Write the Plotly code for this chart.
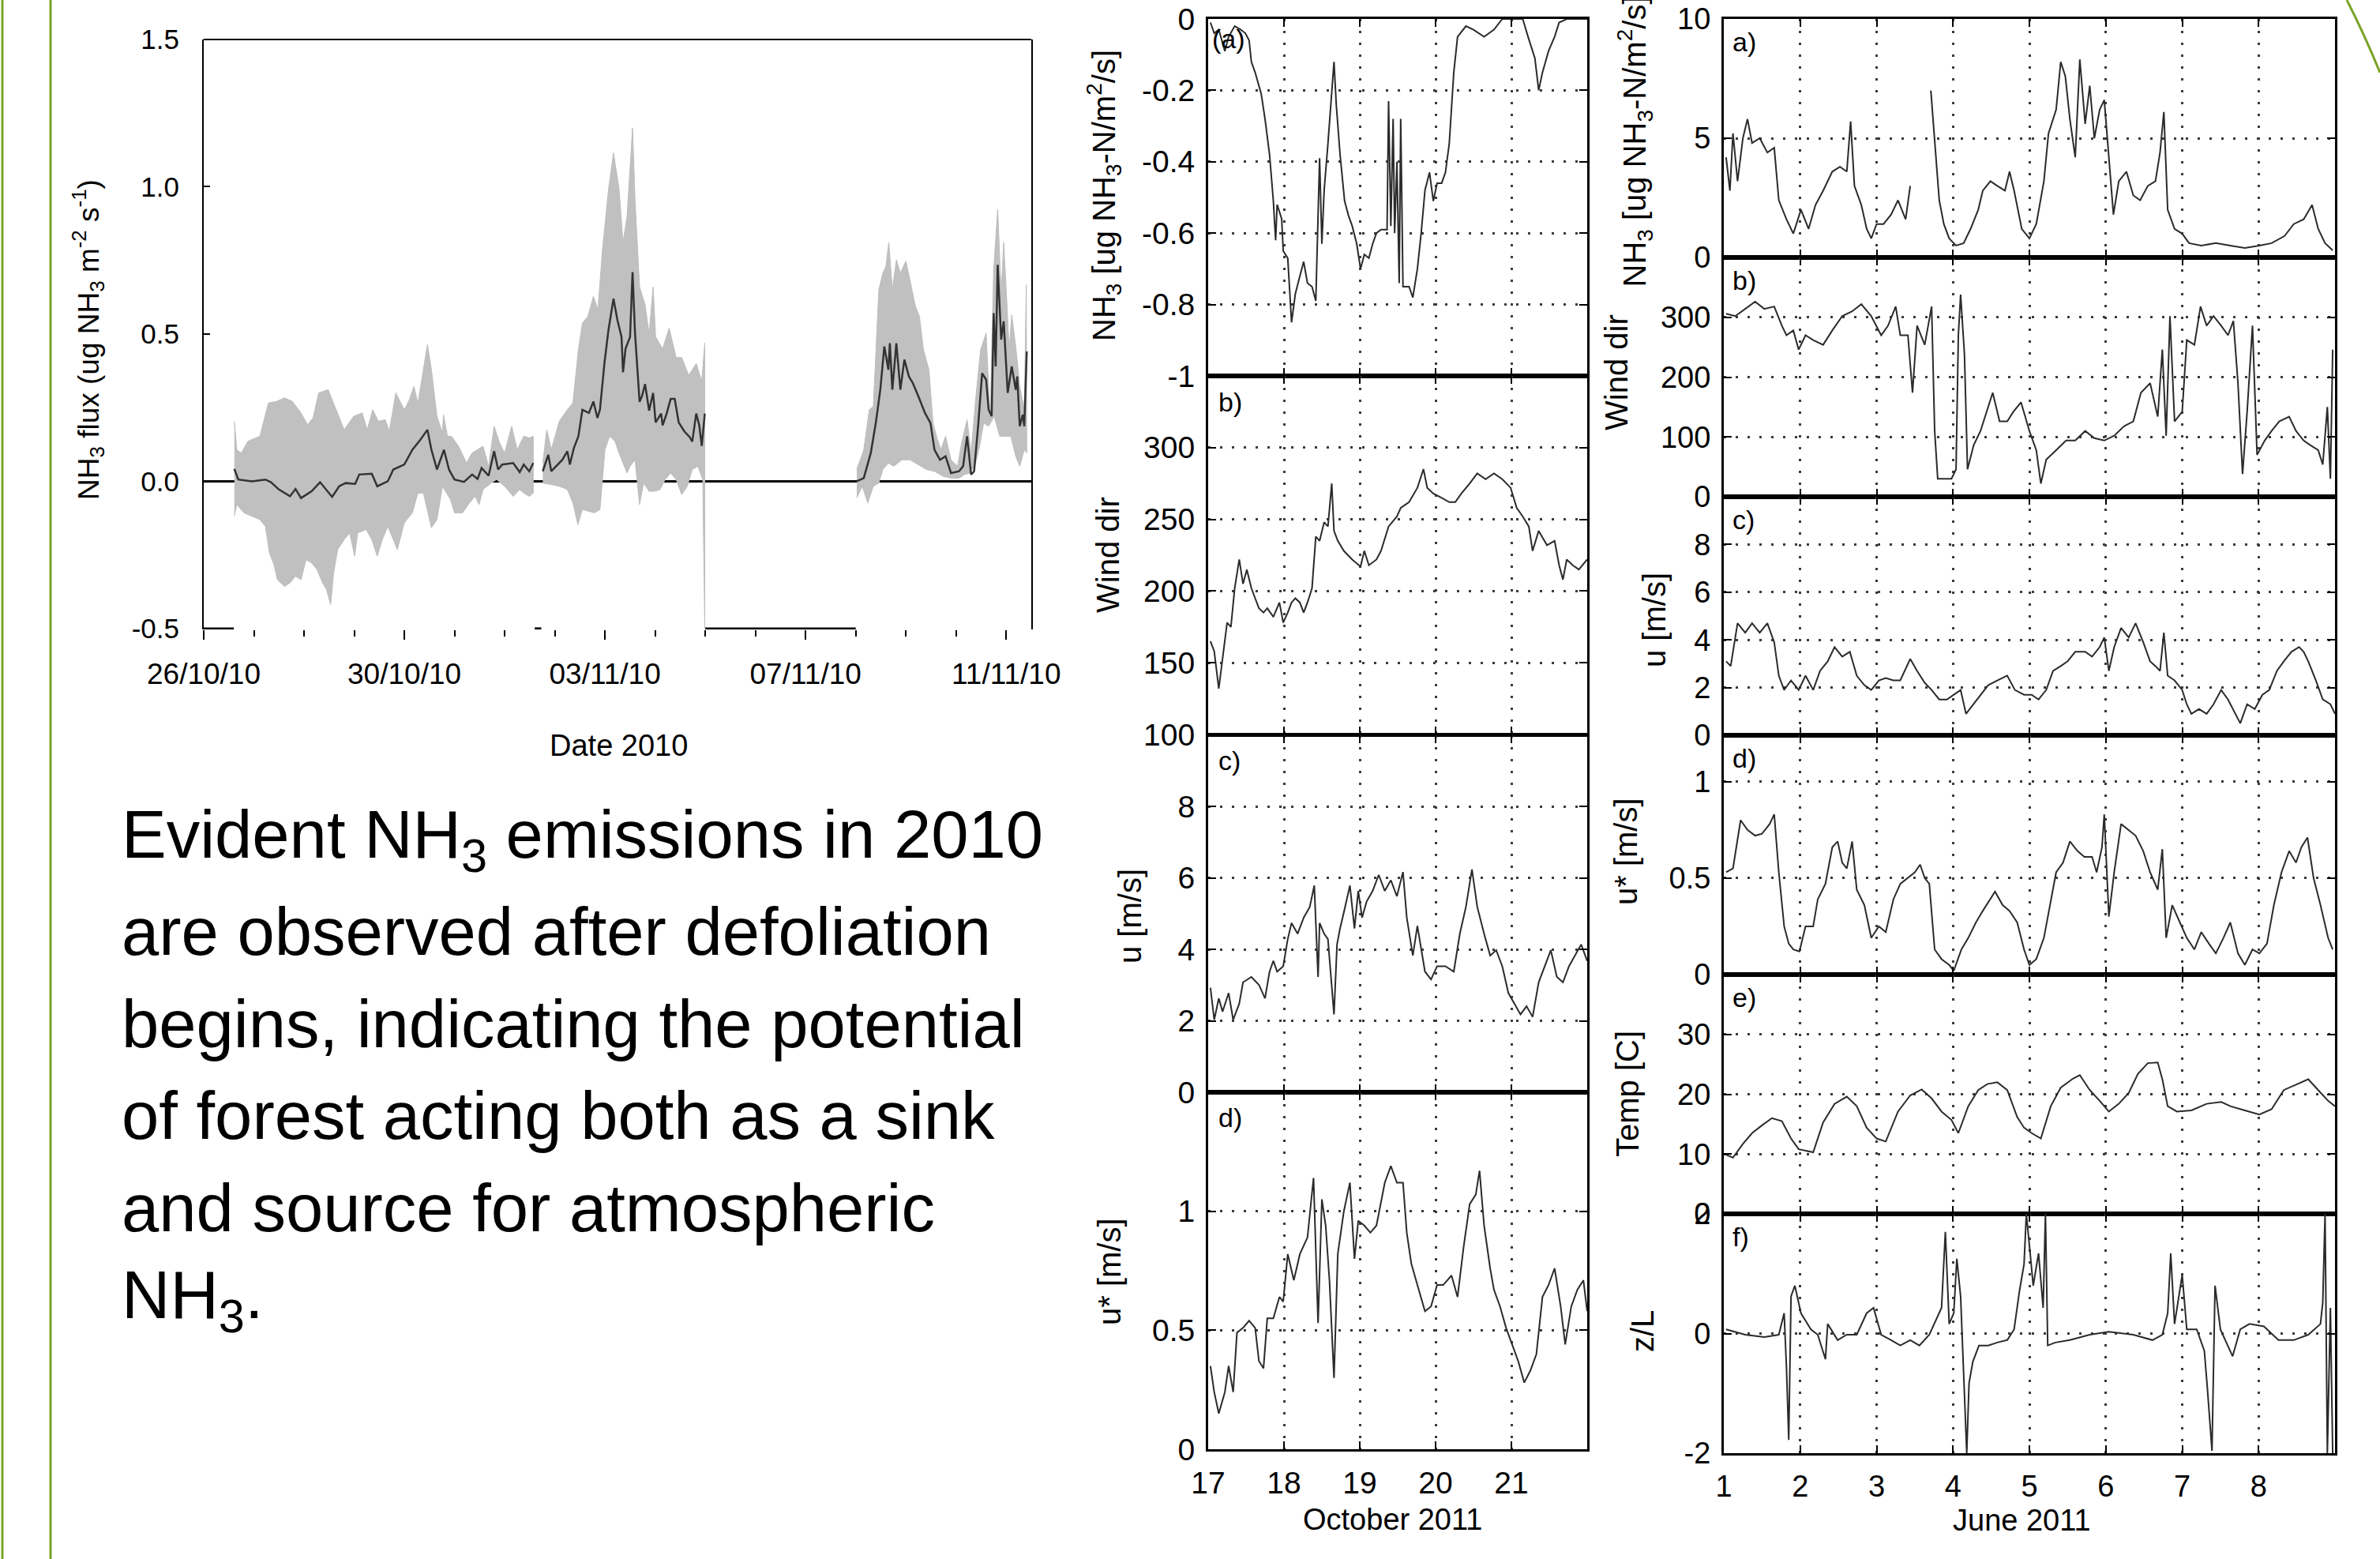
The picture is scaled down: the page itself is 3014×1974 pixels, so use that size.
import plotly.graph_objects as go
import pandas as pd

W, H = 3014, 1974
def X(px): return px / W
def Y(py): return 1 - py / H

FONT = "Liberation Sans, Arial, Helvetica, sans-serif"
LINE = "#2b2b2b"

# ---------------- Left chart: NH3 flux 2010 (days after 26/10/2010) ----------------
flux_day = [0.61,0.69,0.96,1.23,1.34,1.50,1.72,1.83,1.94,2.15,2.32,2.42,2.56,2.70,2.83,3.02,3.10,3.35,3.46,3.67,
            3.78,4.00,4.16,4.32,4.46,4.54,4.65,4.79,4.89,5.00,5.19,5.35,5.46,5.54,5.68,5.79,5.87,5.95,6.17,6.30,
            6.38,6.49,6.57,None,
            6.76,6.87,6.93,7.15,7.25,7.30,7.38,7.47,7.55,7.68,7.77,7.85,7.90,7.99,8.07,8.17,8.25,8.33,8.36,8.41,
            8.50,8.55,8.60,8.63,8.69,8.74,8.80,8.88,8.96,9.01,9.12,9.15,9.23,9.31,9.39,9.47,9.58,9.69,9.74,9.82,
            9.88,9.93,9.99,None,
            13.02,13.16,13.30,13.40,13.49,13.57,13.65,13.68,13.73,13.81,13.89,13.97,14.06,14.14,14.25,14.38,14.49,
            14.57,14.68,14.79,14.90,15.06,15.14,15.22,15.30,15.36,15.44,15.52,15.60,15.65,15.71,15.75,15.79,15.83,
            15.90,15.95,16.03,16.11,16.19,16.22,16.27,16.33,16.36,16.41]
flux_mean = [0.042,0.006,0.000,0.006,-0.003,-0.028,-0.051,-0.026,-0.057,-0.034,-0.003,-0.023,-0.053,-0.017,-0.006,-0.009,0.023,0.026,-0.017,0.000,
             0.040,0.057,0.107,0.141,0.175,0.107,0.040,0.107,0.040,0.006,-0.002,0.023,0.008,0.045,0.019,0.102,0.040,0.057,0.062,0.031,
             0.057,0.034,0.062,None,
             0.034,0.090,0.034,0.073,0.102,0.057,0.113,0.153,0.243,0.232,0.271,0.215,0.243,0.402,0.514,0.620,0.546,0.490,0.37,0.45,
             0.49,0.71,0.50,0.43,0.27,0.29,0.33,0.24,0.30,0.20,0.23,0.19,0.23,0.28,0.28,0.20,0.17,0.15,0.135,0.23,
             0.19,0.12,0.23,None,
             0.000,0.011,0.096,0.198,0.311,0.458,0.379,0.469,0.311,0.469,0.311,0.413,0.356,0.333,0.288,0.232,0.198,
             0.107,0.073,0.085,0.028,0.034,0.051,0.153,0.023,0.034,0.187,0.367,0.345,0.243,0.221,0.571,0.390,0.735,
             0.481,0.543,0.300,0.390,0.311,0.356,0.187,0.226,0.187,0.441]

upper_day = [0.61,0.66,0.75,0.88,1.12,1.29,1.45,1.61,1.77,1.94,2.07,2.18,2.29,2.48,2.64,2.80,2.99,3.16,3.26,3.37,
             3.48,3.62,3.70,3.83,4.00,4.10,4.19,4.27,4.38,4.46,4.54,4.65,4.76,4.78,4.86,4.94,5.08,5.24,5.35,5.46,
             5.57,5.68,5.79,5.90,6.00,6.14,6.25,6.38,6.49,6.57,None,
             6.76,6.84,6.93,7.09,7.25,7.36,7.47,7.55,7.66,7.77,7.86,7.95,8.07,8.17,8.28,8.36,8.44,8.55,8.60,8.69,
             8.80,8.88,8.96,9.01,9.15,9.28,9.42,9.53,9.67,9.82,9.93,9.99,None,
             13.02,13.16,13.27,13.35,13.46,13.54,13.60,13.66,13.73,13.81,13.89,14.00,14.08,14.19,14.27,14.35,14.46,
             14.54,14.62,14.70,14.79,14.90,15.03,15.11,15.22,15.30,15.39,15.49,15.60,15.68,15.75,15.83,15.90,15.95,
             16.00,16.06,16.11,16.19,16.27,16.36,16.40,16.42]
flux_upper = [0.203,0.107,0.096,0.136,0.153,0.266,0.271,0.283,0.271,0.232,0.192,0.215,0.300,0.311,0.243,0.175,0.221,0.232,0.175,0.243,
              0.204,0.209,0.170,0.300,0.243,0.277,0.322,0.266,0.379,0.464,0.379,0.221,0.164,0.226,0.153,0.153,0.119,0.062,0.096,0.107,
              0.119,0.051,0.187,0.130,0.096,0.187,0.107,0.153,0.147,0.153,None,
              0.062,0.175,0.107,0.204,0.243,0.266,0.447,0.537,0.560,0.628,0.583,0.786,0.990,1.115,0.995,0.81,0.90,1.20,0.955,0.66,
              0.60,0.50,0.66,0.49,0.45,0.52,0.42,0.42,0.36,0.40,0.34,0.47,None,
              0.040,0.107,0.243,0.254,0.650,0.707,0.729,0.811,0.650,0.752,0.707,0.747,0.684,0.594,0.560,0.447,0.379,
              0.198,0.147,0.107,0.153,0.073,0.051,0.130,0.209,0.096,0.277,0.447,0.503,0.209,0.718,0.924,0.639,0.811,
              0.650,0.447,0.565,0.458,0.322,0.243,0.667,0.119]

lower_day = [0.61,0.66,0.80,0.96,1.12,1.23,1.31,1.40,1.47,1.61,1.72,1.83,1.94,2.04,2.15,2.26,2.37,2.45,2.53,2.59,
             2.67,2.80,2.91,3.01,3.07,3.24,3.35,3.46,3.56,3.67,3.78,3.86,4.00,4.16,4.27,4.38,4.46,4.54,4.65,4.76,
             4.92,5.00,5.16,5.30,5.41,5.49,5.57,5.73,5.84,6.00,6.17,6.30,6.38,6.49,6.57,None,
             6.76,6.93,7.09,7.25,7.36,7.46,7.55,7.68,7.79,7.90,8.00,8.09,8.20,8.28,8.36,8.44,8.50,8.60,8.69,8.77,
             8.88,8.99,9.10,9.20,9.31,9.42,9.53,9.64,9.74,9.85,9.95,9.99,None,
             13.02,13.13,13.24,13.35,13.46,13.54,13.65,13.76,13.92,14.08,14.25,14.41,14.57,14.74,14.90,15.06,15.17,
             15.28,15.39,15.47,15.55,15.65,15.76,15.87,15.98,16.09,16.19,16.27,16.36,16.41]
flux_lower = [-0.119,-0.079,-0.107,-0.119,-0.130,-0.153,-0.243,-0.283,-0.334,-0.357,-0.345,-0.322,-0.334,-0.266,-0.277,-0.300,-0.345,-0.368,-0.419,-0.311,
              -0.232,-0.198,-0.175,-0.254,-0.175,-0.164,-0.198,-0.254,-0.198,-0.153,-0.198,-0.232,-0.141,-0.107,-0.040,-0.040,-0.096,-0.158,-0.130,-0.017,
              -0.062,-0.107,-0.107,-0.073,-0.051,-0.079,-0.028,-0.006,0.006,-0.017,-0.051,-0.028,-0.040,-0.051,-0.040,None,
              -0.006,-0.011,-0.017,-0.028,-0.073,-0.147,-0.096,-0.102,-0.107,-0.096,0.107,0.153,0.136,0.096,0.062,0.028,0.051,0.073,-0.079,-0.006,
              -0.034,-0.034,-0.028,0.006,0.028,0.006,-0.045,-0.017,0.040,0.051,0.006,-0.50,None,
              -0.057,-0.017,-0.073,-0.017,-0.006,0.040,0.062,0.051,0.073,0.073,0.056,0.040,0.034,0.017,0.011,0.011,0.023,
              0.028,0.062,0.119,0.198,0.187,0.221,0.153,0.153,0.153,0.085,0.051,0.107,0.096]

missing_start = [0.0, 6.60, 10.0]
missing_end = [0.60, 6.73, 13.0]

date_ticks = ["2010-10-26", "2010-10-30", "2010-11-03", "2010-11-07", "2010-11-11"]
date_ticktext = ["26/10/10", "30/10/10", "03/11/10", "07/11/10", "11/11/10"]
flux_tickvals = [-0.5, 0.0, 0.5, 1.0, 1.5]
flux_ticktext = ["-0.5", "0.0", "0.5", "1.0", "1.5"]

# ---------------- Middle column: October 2011 ----------------
oct_nh3_t = [17.03,17.08,17.14,17.22,17.27,17.35,17.43,17.49,17.54,17.57,17.62,17.70,17.75,17.81,17.86,17.89,17.91,17.97,17.99,18.05,
             18.10,18.15,18.21,18.26,18.31,18.37,18.42,18.45,18.47,18.50,18.53,18.58,18.63,18.66,18.69,18.74,18.80,18.85,18.90,18.96,
             19.01,19.06,19.12,19.17,19.22,19.28,19.36,19.38,19.41,19.44,19.46,19.49,19.52,19.54,19.57,19.65,19.70,19.76,19.81,19.86,
             19.92,19.97,20.02,20.08,20.13,20.18,20.24,20.29,20.40,20.50,20.64,20.77,20.88,21.04,21.15,21.22,21.31,21.36,21.41,21.49,
             21.57,21.63,21.73,21.84,22.00]
oct_nh3 = [-0.01,-0.04,-0.03,-0.09,-0.05,-0.02,-0.03,-0.04,-0.06,-0.12,-0.15,-0.21,-0.28,-0.38,-0.51,-0.62,-0.52,-0.56,-0.65,-0.67,
           -0.85,-0.77,-0.72,-0.68,-0.74,-0.75,-0.79,-0.51,-0.39,-0.63,-0.48,-0.35,-0.21,-0.12,-0.24,-0.38,-0.51,-0.55,-0.58,-0.63,
           -0.70,-0.66,-0.67,-0.63,-0.60,-0.59,-0.59,-0.23,-0.58,-0.28,-0.60,-0.40,-0.74,-0.28,-0.75,-0.75,-0.78,-0.70,-0.60,-0.48,
           -0.43,-0.51,-0.46,-0.46,-0.43,-0.35,-0.15,-0.05,-0.02,-0.03,-0.05,-0.03,0.00,0.00,0.00,-0.05,-0.11,-0.20,-0.15,-0.09,
           -0.05,-0.01,0.00,0.00,0.00]

oct_wd_t = [17.03,17.08,17.14,17.19,17.25,17.30,17.35,17.41,17.46,17.51,17.57,17.62,17.67,17.73,17.78,17.86,17.94,17.99,18.05,18.10,
            18.15,18.21,18.26,18.31,18.37,18.42,18.47,18.53,18.58,18.63,18.66,18.71,18.79,18.90,19.01,19.06,19.12,19.22,19.28,19.38,
            19.49,19.54,19.65,19.76,19.84,19.89,19.97,20.08,20.18,20.26,20.34,20.45,20.55,20.66,20.77,20.88,20.99,21.07,21.15,21.23,
            21.28,21.36,21.47,21.57,21.63,21.68,21.73,21.81,21.89,22.00]
oct_wd = [165,158,132,152,178,175,202,222,205,215,202,195,188,185,188,182,192,178,185,192,
          195,192,185,192,202,238,235,248,245,275,242,235,228,222,217,228,218,222,228,245,
          252,258,262,272,285,272,268,265,262,262,268,275,282,278,282,278,272,258,252,245,
          228,242,232,235,218,208,222,218,215,222]

oct_u_t = [17.03,17.08,17.14,17.19,17.27,17.33,17.41,17.46,17.57,17.67,17.75,17.81,17.86,17.91,17.99,18.05,18.10,18.18,18.26,18.34,
           18.40,18.45,18.47,18.53,18.58,18.63,18.66,18.70,18.74,18.79,18.87,18.93,18.98,19.03,19.09,19.17,19.25,19.33,19.41,19.49,
           19.57,19.62,19.70,19.76,19.86,19.94,20.02,20.13,20.24,20.32,20.40,20.48,20.55,20.64,20.72,20.80,20.88,20.96,21.04,21.12,
           21.20,21.28,21.36,21.44,21.52,21.60,21.68,21.76,21.84,21.92,22.00]
oct_u = [2.93,2.03,2.63,2.26,2.78,2.03,2.48,3.08,3.23,3.01,2.63,3.38,3.68,3.38,3.53,4.29,4.74,4.44,4.89,5.19,
         5.79,3.23,4.74,4.44,4.29,3.08,2.18,4.14,4.59,5.04,5.79,4.59,5.64,4.89,5.34,5.64,6.09,5.64,5.94,5.49,
         6.17,4.89,3.83,4.66,3.38,3.16,3.53,3.53,3.38,4.44,5.19,6.24,5.19,4.44,3.83,3.98,3.53,2.78,2.48,2.18,
         2.41,2.11,3.08,3.53,3.98,3.23,3.08,3.53,3.83,4.14,3.68]

oct_ustar_t = [17.03,17.08,17.14,17.22,17.27,17.33,17.38,17.46,17.54,17.62,17.67,17.73,17.78,17.86,17.94,17.99,18.05,18.13,18.21,18.31,
               18.39,18.45,18.50,18.55,18.60,18.66,18.71,18.79,18.87,18.93,18.98,19.06,19.14,19.22,19.33,19.41,19.49,19.57,19.62,19.68,
               19.76,19.86,19.94,20.02,20.10,20.21,20.29,20.37,20.45,20.53,20.58,20.64,20.72,20.77,20.85,20.93,21.01,21.09,21.17,21.25,
               21.33,21.41,21.49,21.57,21.65,21.71,21.79,21.87,21.95,22.00]
oct_ustar = [0.35,0.24,0.15,0.24,0.35,0.24,0.49,0.51,0.54,0.51,0.37,0.34,0.55,0.55,0.64,0.62,0.82,0.71,0.82,0.89,
             1.14,0.53,1.05,0.94,0.71,0.30,0.82,1.00,1.12,0.80,0.96,0.94,0.91,0.94,1.12,1.19,1.12,1.12,0.91,0.78,
             0.69,0.58,0.60,0.69,0.69,0.73,0.64,0.85,1.03,1.07,1.17,0.94,0.76,0.67,0.60,0.51,0.44,0.37,0.28,0.33,
             0.40,0.64,0.69,0.76,0.60,0.44,0.60,0.67,0.71,0.58]

# ---------------- Right column: June 2011 ----------------
jun_nh3_t = [1.03,1.08,1.12,1.18,1.25,1.31,1.37,1.47,1.57,1.66,1.72,1.82,1.91,2.01,2.11,2.20,2.30,2.42,2.52,2.61,
             2.66,2.71,2.80,2.87,2.93,3.00,3.09,3.19,3.28,3.38,3.44,None,
             3.71,3.76,3.82,3.88,3.95,4.04,4.14,4.23,4.33,4.39,4.49,4.58,4.68,4.74,4.80,4.90,5.00,5.09,5.19,5.25,
             5.35,5.41,5.47,5.53,5.60,5.66,5.73,5.79,5.85,5.92,5.98,6.04,6.10,6.17,6.27,6.36,6.45,6.55,6.65,6.71,
             6.76,6.81,6.90,7.00,7.09,7.25,7.44,7.63,7.82,8.01,8.17,8.34,8.46,8.59,8.70,8.78,8.87,8.97]
jun_nh3 = [4.2,2.8,5.2,3.2,5.0,5.8,4.8,5.0,4.4,4.6,2.4,1.6,1.0,2.0,1.2,2.2,2.8,3.6,3.8,3.6,
           5.7,3.0,2.2,1.2,0.8,1.4,1.4,1.8,2.4,1.6,3.0,None,
           7.0,4.8,2.4,1.4,0.8,0.5,0.6,1.2,2.0,2.8,3.2,3.0,2.8,3.6,2.8,1.2,0.8,1.4,3.2,5.2,
           6.2,8.2,7.6,5.8,4.2,8.3,5.6,7.2,5.0,6.2,6.6,4.2,1.8,3.2,3.6,2.6,2.4,3.0,3.2,4.4,
           6.1,2.0,1.2,1.0,0.6,0.5,0.6,0.5,0.4,0.5,0.6,0.9,1.4,1.6,2.2,1.2,0.6,0.3]

jun_wd_t = [1.03,1.15,1.28,1.41,1.53,1.66,1.76,1.82,1.91,1.98,2.07,2.17,2.30,2.42,2.55,2.68,2.80,2.93,3.06,3.15,
            3.25,3.31,3.41,3.47,3.53,3.63,3.72,3.76,3.80,3.88,3.98,4.04,4.07,4.10,4.15,4.19,4.27,4.36,4.46,4.52,
            4.61,4.71,4.79,4.89,5.00,5.09,5.15,5.22,5.35,5.48,5.60,5.73,5.85,5.98,6.11,6.24,6.36,6.46,6.58,6.68,
            6.74,6.79,6.84,6.90,7.00,7.06,7.16,7.24,7.32,7.41,7.51,7.60,7.67,7.73,7.79,7.85,7.92,7.98,8.08,8.17,
            8.27,8.40,8.49,8.59,8.68,8.78,8.84,8.90,8.94,8.97]
jun_wd = [306,302,314,326,314,318,286,270,278,246,270,262,254,278,302,310,322,302,270,286,
          318,270,270,174,286,254,318,110,30,30,30,46,270,338,238,46,86,110,150,174,
          126,126,142,158,110,78,22,62,78,94,94,110,98,94,102,118,126,174,190,134,
          246,102,302,126,142,262,254,318,286,302,286,270,294,190,38,142,286,70,94,110,
          126,134,110,94,86,78,54,150,30,246]

jun_u_t = [1.03,1.09,1.18,1.28,1.37,1.47,1.57,1.66,1.72,1.79,1.88,1.98,2.07,2.17,2.26,2.36,2.45,2.55,2.65,2.74,
           2.84,2.93,3.03,3.12,3.22,3.31,3.44,3.53,3.63,3.72,3.82,3.92,4.01,4.10,4.17,4.27,4.36,4.46,4.58,4.71,
           4.81,4.93,5.03,5.12,5.22,5.31,5.41,5.50,5.60,5.73,5.82,5.92,5.98,6.04,6.11,6.20,6.30,6.39,6.49,6.58,
           6.65,6.71,6.76,6.81,6.90,7.00,7.06,7.12,7.22,7.32,7.41,7.51,7.60,7.70,7.76,7.85,7.95,8.05,8.14,8.24,
           8.33,8.43,8.53,8.59,8.65,8.75,8.84,8.94,9.00]
jun_u = [3.1,2.9,4.7,4.3,4.7,4.3,4.7,3.9,2.5,1.9,2.3,1.9,2.5,1.9,2.7,3.1,3.7,3.3,3.5,2.5,
         2.1,1.9,2.3,2.4,2.3,2.3,3.2,2.7,2.2,1.9,1.5,1.5,1.7,1.9,0.9,1.3,1.7,2.1,2.3,2.5,
         1.9,1.7,1.7,1.5,1.9,2.7,2.9,3.1,3.5,3.5,3.3,3.7,4.1,2.7,3.7,4.5,4.1,4.7,3.9,3.1,
         2.9,2.7,4.3,2.5,2.3,1.9,1.3,0.9,1.1,0.9,1.3,1.9,1.5,0.9,0.5,1.3,1.1,1.7,1.9,2.7,
         3.1,3.5,3.7,3.5,3.1,2.3,1.5,1.3,0.9]

jun_ustar_t = [1.03,1.12,1.22,1.31,1.41,1.50,1.60,1.66,1.72,1.79,1.85,1.91,1.99,2.07,2.17,2.23,2.33,2.42,2.49,2.55,
               2.61,2.68,2.74,2.84,2.93,3.03,3.12,3.22,3.31,3.41,3.50,3.57,3.63,3.69,3.76,3.85,3.95,4.01,4.11,4.20,
               4.30,4.39,4.49,4.55,4.65,4.74,4.84,4.93,5.00,5.09,5.19,5.28,5.35,5.44,5.53,5.63,5.72,5.82,5.88,5.95,
               5.98,6.04,6.11,6.20,6.30,6.39,6.49,6.58,6.68,6.74,6.79,6.87,6.97,7.06,7.16,7.25,7.35,7.44,7.54,7.63,
               7.73,7.82,7.92,8.01,8.11,8.20,8.30,8.40,8.49,8.56,8.64,8.72,8.81,8.91,8.97]
jun_ustar = [0.53,0.55,0.80,0.75,0.72,0.73,0.78,0.83,0.53,0.25,0.16,0.13,0.12,0.25,0.25,0.39,0.47,0.66,0.69,0.58,
             0.55,0.69,0.44,0.36,0.19,0.25,0.22,0.39,0.47,0.50,0.53,0.57,0.50,0.47,0.13,0.08,0.05,0.02,0.13,0.19,
             0.27,0.33,0.39,0.43,0.36,0.33,0.27,0.13,0.05,0.08,0.19,0.39,0.53,0.58,0.69,0.64,0.61,0.61,0.53,0.66,
             0.83,0.30,0.53,0.78,0.75,0.72,0.64,0.53,0.44,0.65,0.19,0.36,0.27,0.19,0.13,0.22,0.16,0.11,0.19,0.27,
             0.11,0.05,0.13,0.11,0.16,0.36,0.53,0.64,0.58,0.66,0.71,0.50,0.36,0.19,0.13]

jun_temp_t = [1.03,1.12,1.25,1.37,1.50,1.63,1.76,1.88,1.98,2.07,2.17,2.30,2.45,2.61,2.74,2.87,3.00,3.12,3.28,3.44,
              3.59,3.72,3.85,3.98,4.07,4.20,4.33,4.45,4.58,4.71,4.84,4.93,5.03,5.15,5.28,5.41,5.57,5.66,5.79,5.92,
              6.04,6.17,6.30,6.42,6.55,6.68,6.74,6.81,6.93,7.12,7.32,7.51,7.63,7.82,8.01,8.17,8.33,8.49,8.65,8.78,
              8.91,9.00]
jun_temp = [9.9,9.4,11.7,13.5,14.8,16.0,15.5,12.6,10.8,10.6,10.3,15.3,18.4,19.6,18.0,14.4,12.6,12.1,17.1,19.8,
            20.8,19.3,17.1,15.7,13.5,18.0,20.7,21.7,22.0,20.7,16.2,14.4,13.5,12.6,18.0,21.1,22.6,23.2,20.7,18.9,
            17.1,18.4,20.2,23.4,25.2,25.3,22.5,18.0,17.1,17.3,18.4,18.7,18.0,17.3,16.6,17.5,20.7,21.6,22.5,20.7,
            18.9,18.0]

jun_zl_t = [1.03,1.28,1.53,1.72,1.79,1.82,1.85,1.88,1.93,2.01,2.14,2.23,2.33,2.36,2.49,2.61,2.74,2.87,2.96,3.06,
            3.19,3.31,3.44,3.56,3.69,3.79,3.85,3.90,3.95,4.01,4.05,4.10,4.15,4.18,4.21,4.26,4.34,4.46,4.58,4.71,
            4.80,4.87,4.93,4.96,5.01,5.05,5.12,5.18,5.21,5.24,5.34,5.53,5.79,6.04,6.36,6.61,6.74,6.81,6.85,6.90,
            7.00,7.06,7.19,7.29,7.33,7.39,7.43,7.50,7.66,7.76,7.88,8.07,8.26,8.46,8.65,8.81,8.84,8.87,8.90,8.94,
            8.97]
jun_zl = [0.07,-0.02,-0.06,-0.02,0.34,-0.56,-1.78,0.62,0.80,0.34,0.07,-0.02,-0.43,0.16,-0.11,-0.02,-0.02,0.34,0.43,-0.02,
          -0.11,-0.20,-0.11,-0.20,-0.02,0.25,0.43,1.70,0.16,0.34,1.25,0.62,-0.92,-2.0,-0.83,-0.47,-0.20,-0.20,-0.15,-0.11,
          0.07,0.71,1.16,2.0,1.34,0.80,1.34,0.43,2.0,-0.20,-0.15,-0.11,-0.02,0.03,-0.02,-0.11,-0.02,0.34,1.34,0.16,
          0.98,0.07,0.07,-0.29,-0.92,-1.96,0.80,0.07,-0.38,0.07,0.16,0.12,-0.11,-0.11,-0.02,0.16,0.52,2.0,-2.0,0.43,
          -2.0]

paragraph = ["Evident NH<sub>3</sub> emissions in 2010",
             "are observed after defoliation",
             "begins, indicating the potential",
             "of forest acting both as a sink",
             "and source for atmospheric",
             "NH<sub>3</sub>."]

# ---------------- Build figure ----------------
fig = go.Figure()
base = pd.Timestamp("2010-10-26")

def to_dates(days):
    return [None if d is None else base + pd.Timedelta(days=d) for d in days]

def split(xs, ys):
    segs, cx, cy = [], [], []
    for a, b in zip(xs, ys):
        if a is None:
            segs.append((cx, cy)); cx, cy = [], []
        else:
            cx.append(a); cy.append(b)
    segs.append((cx, cy))
    return segs

up_segs = split(upper_day, flux_upper)
lo_segs = split(lower_day, flux_lower)
for (ux, uy), (lx, ly) in zip(up_segs, lo_segs):
    px = ux + lx[::-1]
    py = uy + ly[::-1]
    fig.add_trace(go.Scatter(x=to_dates(px), y=py, fill="toself", fillcolor="#c0c0c0",
                             line=dict(color="#bdbdbd", width=1), mode="lines",
                             xaxis="x", yaxis="y", hoverinfo="skip"))

fig.add_trace(go.Scatter(x=to_dates(flux_day), y=flux_mean, mode="lines",
                         line=dict(color="#333333", width=2.5), xaxis="x", yaxis="y"))

mx, my = [], []
for s, e in zip(missing_start, missing_end):
    mx += [s, e, None]
    my += [-0.5, -0.5, None]
fig.add_trace(go.Scatter(x=to_dates(mx), y=my, mode="lines",
                         line=dict(color="black", width=3), xaxis="x", yaxis="y"))

fig.update_layout(
    xaxis=dict(domain=[X(258), X(1306)], anchor="y", type="date", automargin=False,
               range=[base, base + pd.Timedelta(days=16.5)],
               tickvals=date_ticks, ticktext=date_ticktext,
               ticks="outside", ticklen=12, tickwidth=2, tickcolor="black",
               minor=dict(dtick=86400000, tick0="2010-10-26", ticks="outside", ticklen=8,
                          tickwidth=2, tickcolor="black", showgrid=False),
               showline=False, showgrid=False, zeroline=False,
               tickfont=dict(family=FONT, size=37, color="black"), ticklabelstandoff=12),
    yaxis=dict(domain=[Y(797), Y(50)], anchor="x", range=[-0.503, 1.5], automargin=False,
               tickvals=flux_tickvals, ticktext=flux_ticktext,
               ticks="inside", ticklen=8, tickwidth=2, tickcolor="black",
               showline=True, linecolor="black", linewidth=2, mirror=True,
               showgrid=False, zeroline=True, zerolinecolor="black", zerolinewidth=3,
               tickfont=dict(family=FONT, size=35, color="black"), ticklabelstandoff=22),
)

# panel axes
def add_panel(idx, xdom, ytop, ybot, xr, xtv, yr, ytv, ytt, show_x, t, v, fsize):
    common = dict(ticks="inside", ticklen=10, tickwidth=2, tickcolor="black",
                  showline=True, linecolor="black", linewidth=3, mirror="ticks",
                  showgrid=True, gridcolor="#3a3a3a", gridwidth=3, griddash="3px,12px",
                  zeroline=False, tickfont=dict(family=FONT, size=fsize, color="black"),
                  automargin=False)
    fig.layout["xaxis%d" % idx] = dict(domain=xdom, anchor="y%d" % idx, range=xr,
                                      tickvals=xtv, ticktext=[str(a) for a in xtv],
                                      showticklabels=show_x, ticklabelstandoff=6, **common)
    fig.layout["yaxis%d" % idx] = dict(domain=[Y(ybot), Y(ytop)], anchor="x%d" % idx, range=yr,
                                      tickvals=ytv, ticktext=ytt, ticklabelstandoff=6, **common)
    fig.add_trace(go.Scatter(x=t, y=v, mode="lines", line=dict(color=LINE, width=2),
                             xaxis="x%d" % idx, yaxis="y%d" % idx))

mdom = [X(1530), X(2010)]
oct_days = [17, 18, 19, 20, 21]
MF = 39
add_panel(2, mdom, 24, 476, [17, 22], oct_days, [-1, 0],
          [-1, -0.8, -0.6, -0.4, -0.2, 0], ["-1", "-0.8", "-0.6", "-0.4", "-0.2", "0"], False, oct_nh3_t, oct_nh3, MF)
add_panel(3, mdom, 476, 930, [17, 22], oct_days, [100, 350],
          [100, 150, 200, 250, 300], ["100", "150", "200", "250", "300"], False, oct_wd_t, oct_wd, MF)
add_panel(4, mdom, 931, 1383, [17, 22], oct_days, [0, 10],
          [0, 2, 4, 6, 8], ["0", "2", "4", "6", "8"], False, oct_u_t, oct_u, MF)
add_panel(5, mdom, 1383, 1835, [17, 22], oct_days, [0, 1.5],
          [0, 0.5, 1], ["0", "0.5", "1"], True, oct_ustar_t, oct_ustar, MF)

rdom = [X(2183), X(2957)]
jun_days = [1, 2, 3, 4, 5, 6, 7, 8]
RF = 38
add_panel(6, rdom, 24, 326, [1, 9], jun_days, [0, 10], [0, 5, 10], ["0", "5", "10"], False, jun_nh3_t, jun_nh3, RF)
add_panel(7, rdom, 326, 629, [1, 9], jun_days, [0, 400], [0, 100, 200, 300], ["0", "100", "200", "300"], False, jun_wd_t, jun_wd, RF)
add_panel(8, rdom, 629, 931, [1, 9], jun_days, [0, 10], [0, 2, 4, 6, 8], ["0", "2", "4", "6", "8"], False, jun_u_t, jun_u, RF)
add_panel(9, rdom, 931, 1234, [1, 9], jun_days, [0, 1.24], [0, 0.5, 1], ["0", "0.5", "1"], False, jun_ustar_t, jun_ustar, RF)
add_panel(10, rdom, 1234, 1537, [1, 9], jun_days, [0, 40], [0, 10, 20, 30], ["0", "10", "20", "30"], False, jun_temp_t, jun_temp, RF)
add_panel(11, rdom, 1537, 1840, [1, 9], jun_days, [-2, 2], [-2, 0, 2], ["-2", "0", "2"], True, jun_zl_t, jun_zl, RF)

ann = []
def A(text, x, y, size, angle=0, xanchor="center", yanchor="middle"):
    ann.append(dict(text=text, x=X(x), y=Y(y), xref="paper", yref="paper", showarrow=False,
                    textangle=angle, xanchor=xanchor, yanchor=yanchor,
                    font=dict(family=FONT, size=size, color="black")))

# left chart titles
A("NH<sub>3</sub> flux (ug NH<sub>3</sub> m<sup>-2</sup> s<sup>-1</sup>)", 112, 430, 37, -90)
A("Date 2010", 784, 944, 38)

# panel y titles
TF = 40
A("NH<sub>3</sub> [ug NH<sub>3</sub>-N/m<sup>2</sup>/s]", 1398, 248, TF, -90)
A("Wind dir", 1403, 703, TF, -90)
A("u [m/s]", 1431, 1160, TF, -90)
A("u* [m/s]", 1405, 1610, TF, -90)
A("NH<sub>3</sub> [ug NH<sub>3</sub>-N/m<sup>2</sup>/s]", 2070, 366, TF, -90, yanchor="bottom")
A("Wind dir", 2047, 472, TF, -90)
A("u [m/s]", 2095, 785, TF, -90)
A("u* [m/s]", 2059, 1078, TF, -90)
A("Temp [C]", 2061, 1385, TF, -90)
A("z/L", 2080, 1686, TF, -90)

# x titles
A("October 2011", 1763, 1924, 38)
A("June 2011", 2560, 1925, 38)

# panel letters
for lab, x, y in [("(a)", 1533, 28), ("b)", 1541, 488), ("c)", 1541, 942), ("d)", 1541, 1394),
                  ("a)", 2192, 32), ("b)", 2192, 334), ("c)", 2192, 637), ("d)", 2192, 939),
                  ("e)", 2192, 1242), ("f)", 2192, 1545)]:
    A(lab, x, y, 34, 0, xanchor="left", yanchor="top")

# paragraph
for i, line in enumerate(paragraph):
    A(line, 152, 1063 + 116.6 * i, 85, 0, xanchor="left")

shapes = [
    dict(type="line", xref="paper", yref="paper", x0=X(258), x1=X(1306), y0=Y(50), y1=Y(50),
         line=dict(color="black", width=2)),
    dict(type="line", xref="paper", yref="paper", x0=X(3), x1=X(3), y0=0, y1=1,
         line=dict(color="#7ba428", width=3)),
    dict(type="line", xref="paper", yref="paper", x0=X(64), x1=X(64), y0=0, y1=1,
         line=dict(color="#7ba428", width=3)),
    dict(type="path", xref="paper", yref="paper",
         path="M %f,%f Q %f,%f %f,%f" % (X(2972), Y(0), X(2995), Y(45), X(3014), Y(92)),
         line=dict(color="#7ba428", width=3)),
]

fig.update_layout(template="none", width=W, height=H, margin=dict(l=0, r=0, t=0, b=0, autoexpand=False),
                  paper_bgcolor="white", plot_bgcolor="white", showlegend=False,
                  annotations=ann, shapes=shapes, font=dict(family=FONT))

fig.write_html("out.html", config={"displayModeBar": False},
               post_script="document.body.style.margin='0';document.body.style.overflow='hidden';")
